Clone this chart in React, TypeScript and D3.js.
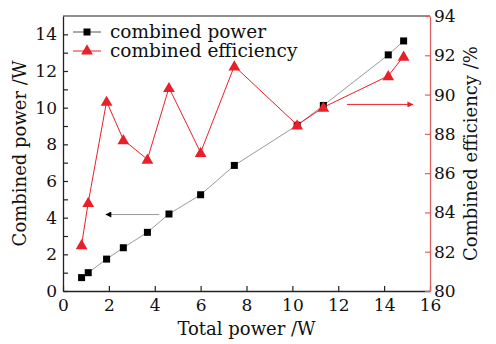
import { useEffect, useRef } from 'react';
import * as d3 from 'd3';

const totalPower = [0.81, 1.1, 1.9, 2.63, 3.68, 4.62, 6.0, 7.47, 10.21, 11.35, 14.18, 14.85];
const combinedPower = [0.73, 1.0, 1.74, 2.36, 3.2, 4.2, 5.25, 6.85, 9.04, 10.12, 12.88, 13.64];
const combinedEfficiency = [82.35, 84.5, 89.65, 87.7, 86.7, 90.35, 87.05, 91.45, 88.45, 89.35, 90.95, 91.95];
const xTicks = [0, 2, 4, 6, 8, 10, 12, 14, 16];
const leftTicks = [0, 1, 2, 3, 4, 5, 6, 7, 8, 9, 10, 11, 12, 13, 14];
const rightTicks = [80, 82, 84, 86, 88, 90, 92, 94];
const seriesNames = ['combined power', 'combined efficiency'];

const W = 496, H = 344;
const FONT = 'DejaVu Serif, serif';
const RED = '#e8202a';

export default function App() {
  const ref = useRef<SVGSVGElement | null>(null);
  useEffect(() => {
    document.body.style.margin = '0';
    const svg = d3.select(ref.current!);
    svg.selectAll('*').remove();
    const m = { top: 16, right: 66, bottom: 53, left: 63 };
    const iw = W - m.left - m.right;
    const ih = H - m.top - m.bottom;
    const g = svg.append('g').attr('transform', `translate(${m.left},${m.top})`);

    const x = d3.scaleLinear().domain([0, 16]).range([0, iw]);
    const yl = d3.scaleLinear().domain([0, 15]).range([ih, 0]);
    const yr = d3.scaleLinear().domain([80, 94]).range([ih, 0]);

    // frame top
    g.append('line').attr('x1', 0).attr('x2', iw).attr('y1', 0).attr('y2', 0).attr('stroke', '#222').attr('stroke-width', 1.2);

    const styleAxis = (s: any, col: string) => {
      s.select('.domain').attr('stroke', col).attr('stroke-width', 1.3);
      s.selectAll('.tick line').attr('stroke', col).attr('stroke-width', 1.2);
      s.selectAll('text').attr('font-size', 17).attr('font-family', FONT).attr('fill', '#111');
    };

    g.append('g').attr('transform', `translate(0,${ih})`)
      .call(d3.axisBottom(x).tickValues(xTicks).tickFormat(d3.format('d')).tickSizeInner(-5).tickSizeOuter(0).tickPadding(8))
      .call((s) => styleAxis(s, '#222'));

    g.append('g')
      .call(d3.axisLeft(yl).tickValues(leftTicks).tickFormat((d) => (Number(d) % 2 === 0 ? String(d) : '')).tickSizeInner(-5).tickSizeOuter(0).tickPadding(6))
      .call((s) => styleAxis(s, '#222'));

    g.append('g').attr('transform', `translate(${iw},0)`)
      .call(d3.axisRight(yr).tickValues(rightTicks).tickFormat(d3.format('d')).tickSizeInner(-5).tickSizeOuter(0).tickPadding(4))
      .call((s) => styleAxis(s, '#e06060'));

    const pts = totalPower.map((t, i) => ({ t, p: combinedPower[i], e: combinedEfficiency[i] }));

    // power series
    g.append('path').datum(pts).attr('fill', 'none').attr('stroke', '#9a9a9a').attr('stroke-width', 1)
      .attr('d', d3.line<any>().x((d) => x(d.t)).y((d) => yl(d.p)) as any);
    g.selectAll('.sq').data(pts).enter().append('rect')
      .attr('x', (d) => x(d.t) - 3.5).attr('y', (d) => yl(d.p) - 3.5).attr('width', 7).attr('height', 7).attr('fill', '#000');

    // efficiency series
    g.append('path').datum(pts).attr('fill', 'none').attr('stroke', RED).attr('stroke-width', 1)
      .attr('d', d3.line<any>().x((d) => x(d.t)).y((d) => yr(d.e)) as any);
    const tri = d3.symbol().type(d3.symbolTriangle).size(60);
    g.selectAll('.tri').data(pts).enter().append('path')
      .attr('d', tri as any).attr('fill', RED)
      .attr('transform', (d) => `translate(${x(d.t)},${yr(d.e) + 1})`);

    // arrows
    const defs = svg.append('defs');
    const mk = (id: string, col: string) => defs.append('marker').attr('id', id).attr('viewBox', '0 0 10 10').attr('refX', 9).attr('refY', 5)
      .attr('markerWidth', 8).attr('markerHeight', 6).attr('orient', 'auto-start-reverse').attr('markerUnits', 'userSpaceOnUse')
      .append('path').attr('d', 'M0,0 L10,5 L0,10 z').attr('fill', col);
    mk('ab', '#000');
    mk('ar', RED);
    g.append('line').attr('x1', x(4.2)).attr('x2', x(1.87)).attr('y1', yl(4.17)).attr('y2', yl(4.17))
      .attr('stroke', '#999').attr('stroke-width', 1).attr('marker-end', 'url(#ab)');
    g.append('line').attr('x1', x(12.38)).attr('x2', x(15.25)).attr('y1', yr(89.5)).attr('y2', yr(89.5))
      .attr('stroke', RED).attr('stroke-width', 1).attr('marker-end', 'url(#ar)');

    // legend
    const lg = g.append('g');
    seriesNames.forEach((name, i) => {
      const yy = 16 + i * 19;
      lg.append('line').attr('x1', 10).attr('x2', 38).attr('y1', yy).attr('y2', yy)
        .attr('stroke', i === 0 ? '#555' : RED).attr('stroke-width', 1);
      if (i === 0) lg.append('rect').attr('x', 20.5).attr('y', yy - 3.5).attr('width', 7).attr('height', 7).attr('fill', '#000');
      else lg.append('path').attr('d', tri as any).attr('fill', RED).attr('transform', `translate(24,${yy})`);
      lg.append('text').attr('x', 47).attr('y', yy + 6).attr('font-size', 18.5).attr('font-family', FONT).attr('fill', '#111').text(name);
    });

    // axis titles
    svg.append('text').attr('x', m.left + iw / 2).attr('y', 335).attr('text-anchor', 'middle')
      .attr('font-size', 18).attr('font-family', FONT).attr('fill', '#111').text('Total power /W');
    svg.append('text').attr('transform', `translate(26,${m.top + ih / 2}) rotate(-90)`).attr('text-anchor', 'middle')
      .attr('font-size', 18).attr('font-family', FONT).attr('fill', '#111').text('Combined power /W');
    svg.append('text').attr('transform', `translate(477,${m.top + ih / 2}) rotate(-90)`).attr('text-anchor', 'middle')
      .attr('font-size', 18).attr('font-family', FONT).attr('fill', '#111').text('Combined efficiency /%');
  }, []);
  return <svg ref={ref} width={W} height={H} style={{ display: 'block', background: '#fff' }} />;
}
